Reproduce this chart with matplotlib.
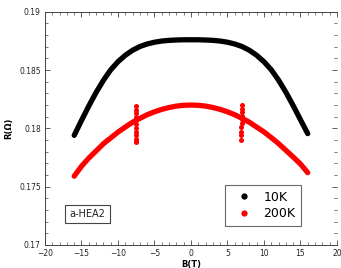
import matplotlib
matplotlib.use("Agg")
import matplotlib.pyplot as plt
from matplotlib.lines import Line2D
from matplotlib.ticker import MultipleLocator

# Data
B_10K = [-16, -15, -14, -13, -12, -11, -10, -9, -8, -7, -6, -5, -4, -3, -2, -1, 0,
         1, 2, 3, 4, 5, 6, 7, 8, 9, 10, 11, 12, 13, 14, 15, 16]
R_10K = [0.1794, 0.18068, 0.18192, 0.18308, 0.18412, 0.18502, 0.18572, 0.18627, 0.18670, 0.18702,
         0.18724, 0.18739, 0.18749, 0.18755, 0.18758, 0.18760, 0.18760,
         0.18760, 0.18758, 0.18755, 0.18749, 0.18739, 0.18724, 0.18702, 0.18670, 0.18627,
         0.18572, 0.18503, 0.18414, 0.18311, 0.18196, 0.18075, 0.17955]

B_200K = [-16, -15, -14, -13, -12, -11, -10, -9, -8, -7, -6, -5, -4, -3, -2, -1, 0,
          1, 2, 3, 4, 5, 6, 7, 8, 9, 10, 11, 12, 13, 14, 15, 16]
R_200K = [0.1759, 0.17675, 0.17745, 0.17806, 0.17868, 0.17918, 0.17968, 0.18011, 0.18053, 0.18086,
          0.18117, 0.18142, 0.18163, 0.18179, 0.18191, 0.18198, 0.18200,
          0.18198, 0.18191, 0.18179, 0.18163, 0.18142, 0.18117, 0.18086, 0.18053, 0.18011,
          0.17970, 0.17921, 0.17870, 0.17812, 0.17755, 0.17695, 0.17620]

# Scattered points at the two field sweeps (spikes in the 200K data)
spike_B = [-7.5, -7.5, -7.5, -7.5, -7.5, -7.5, -7.5, -7.5, -7.5, -7.5, -7.5, -7.5,
           7.0, 7.0, 7.0, 7.0, 7.0, 7.0, 6.9, 6.8, 6.8, 6.8]
spike_R = [0.1819, 0.1816, 0.1813, 0.1810, 0.1807, 0.1804, 0.1800, 0.1797, 0.1794, 0.1791, 0.1789, 0.1788,
           0.1820, 0.1817, 0.1814, 0.1811, 0.1808, 0.1805, 0.1801, 0.1797, 0.1794, 0.1790]

labels = ["10K", "200K"]
colors = ["black", "#ff0000"]

fig = plt.figure(figsize=(3.41, 2.68), dpi=100)
ax = fig.add_axes([0.132, 0.086, 0.856, 0.870])

ax.plot(B_10K, R_10K, color=colors[0], lw=3.8, solid_capstyle="round", solid_joinstyle="round")
ax.plot(B_200K, R_200K, color=colors[1], lw=3.8, solid_capstyle="round", solid_joinstyle="round")
ax.scatter(spike_B, spike_R, color=colors[1], s=13, linewidths=0)

ax.set_xlim(-20, 20)
ax.set_ylim(0.17, 0.19)
ax.xaxis.set_major_locator(MultipleLocator(5))
ax.xaxis.set_minor_locator(MultipleLocator(1))
ax.yaxis.set_minor_locator(MultipleLocator(0.001))
ax.set_yticks([0.17, 0.175, 0.18, 0.185, 0.19])
ax.set_yticklabels(["0.17", "0.175", "0.18", "0.185", "0.19"])

ax.tick_params(which="both", direction="in", top=True, right=True, colors="#444444",
               labelcolor="#222222", labelsize=5.5)
ax.tick_params(axis="x", pad=3)
ax.tick_params(axis="y", pad=3)
ax.tick_params(which="major", length=3.5, width=0.6)
ax.tick_params(which="minor", length=2, width=0.5)
for s in ["left", "bottom", "top"]:
    ax.spines[s].set_color("#444444")
    ax.spines[s].set_linewidth(0.7)
ax.spines["right"].set_visible(False)

ax.set_xlabel("B(T)", fontsize=6, fontweight="bold", labelpad=1)
ax.set_ylabel("R(Ω)", fontsize=6, fontweight="bold", labelpad=4)

handles = [Line2D([], [], marker="o", color=c, linestyle="none", markersize=3.5) for c in colors]
leg = ax.legend(handles, labels, loc="lower right", bbox_to_anchor=(0.877, 0.081), fontsize=9,
                frameon=True, fancybox=False, edgecolor="#444444", handletextpad=0.5,
                borderpad=0.45, labelspacing=0.3, handlelength=2.1, borderaxespad=0)
leg.get_frame().set_linewidth(0.8)

ax.text(-16.6, 0.1724, "a-HEA2", fontsize=7, color="#222222",
        bbox=dict(boxstyle="square,pad=0.45", fc="white", ec="#444444", lw=0.8))

fig.savefig("out.png", dpi=100)
